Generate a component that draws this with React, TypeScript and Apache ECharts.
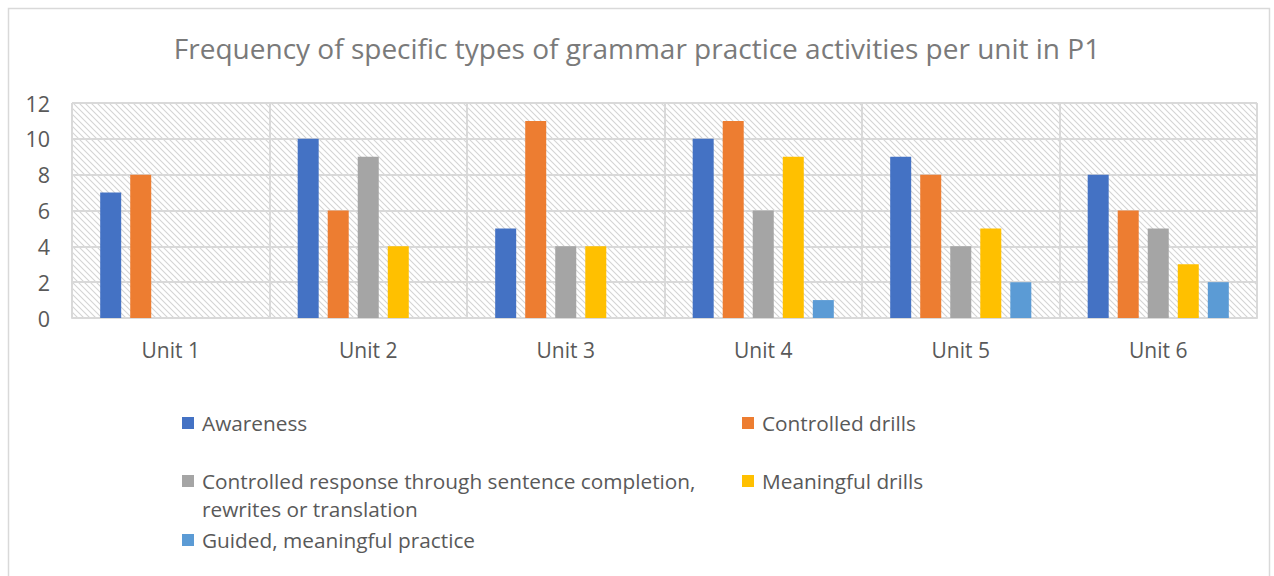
import React, { useEffect, useRef } from "react";
import * as echarts from "echarts";

const units = ["Unit 1", "Unit 2", "Unit 3", "Unit 4", "Unit 5", "Unit 6"];
const awareness = [7, 10, 5, 10, 9, 8];
const controlledDrills = [8, 6, 11, 11, 8, 6];
const controlledResponse = [0, 9, 4, 6, 4, 5];
const meaningfulDrills = [0, 4, 4, 9, 5, 3];
const guidedPractice = [0, 0, 0, 1, 2, 2];

const seriesNames = [
  "Awareness",
  "Controlled drills",
  "Controlled response through sentence completion, rewrites or translation",
  "Meaningful drills",
  "Guided, meaningful practice",
];
const seriesData = [awareness, controlledDrills, controlledResponse, meaningfulDrills, guidedPractice];
const colors = ["#4472C4", "#ED7D31", "#A5A5A5", "#FFC000", "#5B9BD5"];

const FONT = "'Open Sans', sans-serif";

function makeHatch(): string {
  const c = document.createElement("canvas");
  const s = 6;
  c.width = s;
  c.height = s;
  const ctx = c.getContext("2d")!;
  ctx.fillStyle = "#ffffff";
  ctx.fillRect(0, 0, s, s);
  ctx.strokeStyle = "#d4d4d4";
  ctx.lineWidth = 1.1;
  ctx.beginPath();
  ctx.moveTo(-1, -1);
  ctx.lineTo(s + 1, s + 1);
  ctx.moveTo(-1, s - 1);
  ctx.lineTo(1, s + 1);
  ctx.moveTo(s - 1, -1);
  ctx.lineTo(s + 1, 1);
  ctx.stroke();
  return c.toDataURL();
}

export default function App() {
  const ref = useRef<HTMLDivElement>(null);
  useEffect(() => {
    if (!ref.current) return;
    const chart = echarts.init(ref.current, undefined, { renderer: "svg" });
    const legendPos = [
      { left: 182, top: 411 },
      { left: 742, top: 411 },
      { left: 182, top: 469 },
      { left: 742, top: 469 },
      { left: 182, top: 528 },
    ];
    chart.setOption({
      animation: false,
      backgroundColor: "#ffffff",
      title: {
        text: "Frequency of specific types of grammar practice activities per unit in P1",
        left: "center",
        top: 29,
        textStyle: { fontFamily: FONT, fontSize: 28, fontWeight: "normal", color: "#7a7a7a" },
      },
      graphic: [
        {
          type: "rect",
          shape: { x: 8.5, y: 8.5, width: 1261, height: 580 },
          style: { fill: "none", stroke: "#d9d9d9", lineWidth: 1.5 },
          silent: true,
        },
        {
          type: "text",
          left: 202,
          top: 498,
          style: {
            text: "rewrites or translation",
            font: "20.8px 'Open Sans', sans-serif",
            fill: "#595959",
          },
          silent: true,
        },
      ],
      legend: seriesNames.map((n, i) => ({
        data: [n],
        left: legendPos[i].left,
        top: legendPos[i].top,
        padding: 0,
        itemWidth: 12,
        itemHeight: 12,
        icon: "rect",
        selectedMode: false,
        formatter: (name: string) =>
          name.startsWith("Controlled response")
            ? "Controlled response through sentence completion,"
            : name,
        textStyle: {
          fontFamily: FONT,
          fontSize: 20.8,
          color: "#595959",
          lineHeight: 24,
          padding: [0, 0, 0, 3],
        },
      })),
      grid: {
        left: 72,
        right: 17,
        top: 103,
        bottom: 258,
        show: true,
        borderWidth: 0,
        backgroundColor: { image: makeHatch(), repeat: "repeat" },
      },
      xAxis: {
        type: "category",
        data: units,
        axisLine: { show: true, lineStyle: { color: "#d9d9d9", width: 2 } },
        axisTick: { show: false },
        splitLine: { show: true, lineStyle: { color: "#d9d9d9", width: 2 } },
        axisLabel: { fontFamily: FONT, fontSize: 21, color: "#595959", margin: 21 },
      },
      yAxis: {
        type: "value",
        min: 0,
        max: 12,
        interval: 2,
        axisLine: { show: false },
        axisTick: { show: false },
        splitLine: { show: true, lineStyle: { color: "#d9d9d9", width: 2 } },
        axisLabel: { fontFamily: FONT, fontSize: 21.5, color: "#595959", margin: 22 },
      },
      series: seriesNames.map((n, i) => ({
        name: n,
        type: "bar",
        data: seriesData[i],
        barWidth: 21,
        barGap: "43%",
        itemStyle: { color: colors[i] },
      })),
    });
    return () => chart.dispose();
  }, []);
  return (
    <div
      ref={ref}
      style={{ position: "fixed", left: 0, top: 0, width: 1274, height: 576 }}
    />
  );
}
